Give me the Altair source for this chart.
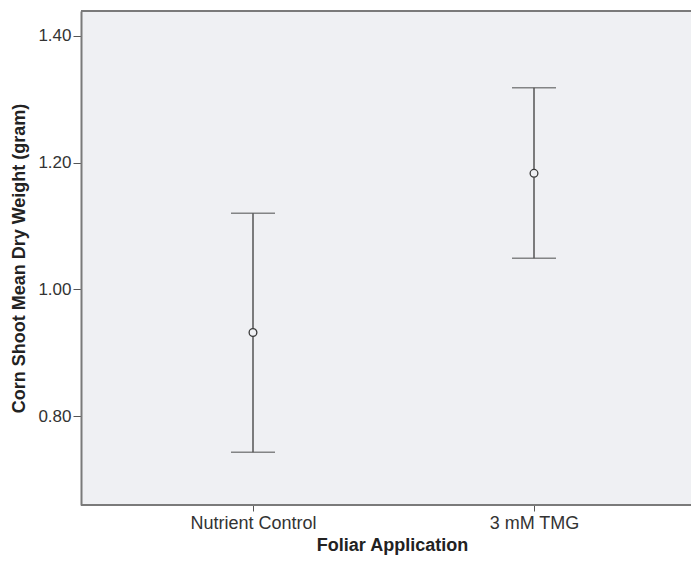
import altair as alt
import pandas as pd

groups = ["Nutrient Control", "3 mM TMG"]
means = [0.932, 1.183]
lower = [0.743, 1.049]
upper = [1.120, 1.318]

df = pd.DataFrame({"group": groups, "mean": means, "low": lower, "high": upper})

W, H = 610, 494
xscale = alt.Scale(type="point", domain=groups, range=[172, 453], padding=0)
yscale = alt.Scale(domain=[0.660, 1.439], nice=False, zero=False)

x = alt.X("group:N", scale=xscale, sort=groups,
          axis=alt.Axis(title="Foliar Application", labelAngle=0, domain=False,
                        titleX=311, titleY=45, titleBaseline="alphabetic", titleAlign="center"))
line_color = "#555555"
border_color = "#7a7a7a"

base = alt.Chart(df)
rule = base.mark_rule(color=line_color, strokeWidth=1.5).encode(
    x=x,
    y=alt.Y("low:Q", scale=yscale,
            axis=alt.Axis(title="Corn Shoot Mean Dry Weight (gram)", values=[0.8, 1.0, 1.2, 1.4],
                          format=".2f", titleX=-62, titleY=H / 2, titleBaseline="middle",
                          titleAngle=270, titleAlign="center")),
    y2="high:Q",
)
cap_lo = base.mark_tick(color=line_color, orient="horizontal", size=44, thickness=1.5).encode(
    x=x, y=alt.Y("low:Q", scale=yscale))
cap_hi = base.mark_tick(color=line_color, orient="horizontal", size=44, thickness=1.5).encode(
    x=x, y=alt.Y("high:Q", scale=yscale))
pt = base.mark_point(shape="circle", filled=False, color="#3a3a3a", size=60, strokeWidth=1.3,
                     fill="#eff0f3", fillOpacity=1).encode(
    x=x, y=alt.Y("mean:Q", scale=yscale))
frame = alt.Chart(pd.DataFrame({"k": [0]}))
top_border = frame.mark_rule(color=border_color, strokeWidth=2).encode(
    x=alt.value(0), x2=alt.value(W), y=alt.value(0))
bottom_border = frame.mark_rule(color=border_color, strokeWidth=2).encode(
    x=alt.value(0), x2=alt.value(W), y=alt.value(H))

chart = alt.layer(rule, cap_lo, cap_hi, pt, top_border, bottom_border).properties(
    width=W, height=H,
    autosize=alt.AutoSizeParams(type="none"),
    padding={"left": 73, "top": 3, "right": 0, "bottom": 50},
).configure_view(
    fill="#eff0f3", stroke=None
).configure_axis(
    domainColor=border_color, domainWidth=2, grid=False,
    labelFont="Liberation Sans", titleFont="Liberation Sans",
    labelFontSize=17, titleFontSize=18, labelColor="#333333", titleColor="#222222",
    tickColor="#555555", titleFontWeight="bold",
).configure_axisY(
    tickSize=8, labelPadding=2,
).configure_axisX(
    tickSize=6, labelPadding=3, labelFontSize=18,
)

chart.save("out.html", embed_options={"renderer": "svg", "actions": False})
